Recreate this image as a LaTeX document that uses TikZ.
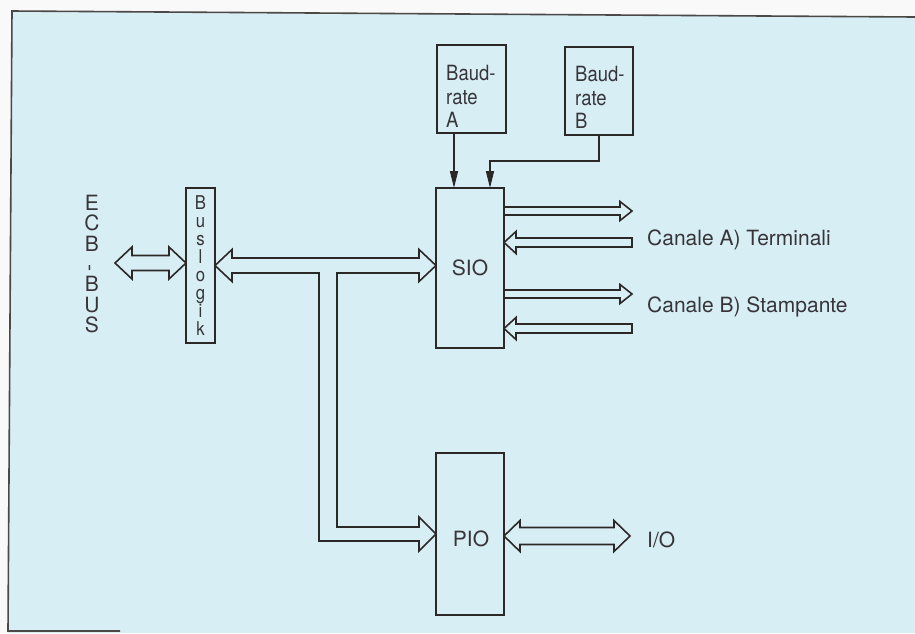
\documentclass[tikz,border=0pt]{standalone}
\usepackage{fontspec}
\usepackage{graphicx}
\setmainfont{TeX Gyre Heros}
\newfontfamily\cndf{TeX Gyre Heros}[FakeStretch=0.88]
\usetikzlibrary{calc,arrows.meta}
\definecolor{bgblue}{RGB}{215,238,245}
\definecolor{ink}{RGB}{45,40,40}
\definecolor{txt}{RGB}{55,53,57}
\newcommand\nolsk{\lineskiplimit=-50pt\relax\lineskip=0pt\relax}
% double wide arrow: #1 left tip, #2 right tip, #3 head length, #4 half head, #5 half shaft
\newcommand\dblarr[5]{\draw[widearrow] let \p1=(#1), \p2=(#2) in (\x1,\y1) -- (\x1+#3,\y1+#4) -- (\x1+#3,\y1+#5) -- (\x2-#3,\y1+#5) -- (\x2-#3,\y1+#4) -- (\x2,\y1) -- (\x2-#3,\y1-#4) -- (\x2-#3,\y1-#5) -- (\x1+#3,\y1-#5) -- (\x1+#3,\y1-#4) -- cycle;}
% right-pointing wide arrow, open tail at #1, tip at #2
\newcommand\outarr[2]{\draw[widearrow] let \p1=(#1), \p2=(#2) in (\x1,\y2+4pt) -- (\x2-12pt,\y2+4pt) -- (\x2-12pt,\y2+9.5pt) -- (\x2,\y2) -- (\x2-12pt,\y2-9.5pt) -- (\x2-12pt,\y2-4pt) -- (\x1,\y2-4pt);}
% left-pointing wide arrow, tip at #1, closed tail at #2
\newcommand\inarr[2]{\draw[widearrow] let \p1=(#1), \p2=(#2) in (\x1,\y2) -- (\x1+12pt,\y2+11pt) -- (\x1+12pt,\y2+4.5pt) -- (\x2,\y2+4.5pt) -- (\x2,\y2-4.5pt) -- (\x1+12pt,\y2-4.5pt) -- (\x1+12pt,\y2-11pt) -- cycle;}
\tikzset{
  box/.style={draw=ink, line width=2.8pt, inner sep=0pt, outer sep=0pt},
  widearrow/.style={draw=ink, line width=1.6pt, line join=miter},
  thinarr/.style={draw=ink, line width=1.5pt, -{Triangle[length=17pt,width=8pt]}},
  lbl/.style={text=txt, inner sep=0pt, font={\fontsize{21}{21}\selectfont}},
  clbl/.style={text=txt, inner sep=0pt, align=left, font={\cndf\fontsize{21}{23.5}\selectfont}},
}
\begin{document}
\begin{tikzpicture}[x=1pt,y=-1pt]
\useasboundingbox (0,0) rectangle (915,633);
% paper and frame
\fill[white!95!gray] (0,0) rectangle (915,633);
\fill[bgblue] (12,11) -- (915,17) -- (915,633) -- (8,633) -- cycle;
\draw[ink!85, line width=1.6pt] (915,17) -- (12,11) -- (8,631) -- (120,631);

% boxes
\node[box, minimum width=29, minimum height=155,
      align=center, text=txt, font={\cndf\fontsize{19}{18}\selectfont\nolsk}]
      (bl) at (200.5,265.5) {B\\u\\s\\l\\o\\g\\i\\k};
\node[box, minimum width=68, minimum height=160] (sio) at (470,268) {};
\node[box, minimum width=68, minimum height=162] (pio) at (470,534) {};
\node[box, minimum width=69, minimum height=88] (ba) at (471.5,89) {};
\node[box, minimum width=68, minimum height=88] (bb) at (599,91) {};

% texts
\node[lbl, align=center, font={\fontsize{21}{20.3}\selectfont\nolsk}] (ecb) at (92,264)
  {E\\C\\B\\\rotatebox{90}{-}\\B\\U\\S};
\node[lbl, anchor=base] (siot) at (470,275) {SIO};
\node[lbl, anchor=base] (piot) at (471,546) {PIO};
\node[clbl, anchor=north west] (bat) at (446,65) {Baud-\\rate\\A};
\node[clbl, anchor=north west] (bbt) at (575,66) {Baud-\\rate\\B};
\node[lbl, anchor=base west] (cana) at (647,245) {Canale A) Terminali};
\node[lbl, anchor=base west] (canb) at (647,312) {Canale B) Stampante};
\node[lbl, anchor=base west] (io) at (647,547) {I/O};

% free ends
\coordinate (ecbtip) at (115,263);
\coordinate (a1) at (632,211);
\coordinate (a2) at (632,242.5);
\coordinate (b1) at (632,294);
\coordinate (b2) at (632,328.5);
\coordinate (iotip) at (630,536);

% ECB-BUS <-> Buslogik
\dblarr{ecbtip}{bl.west |- ecbtip}{17pt}{16pt}{7.5pt}

% internal bus Buslogik <-> SIO with branch to PIO
\draw[widearrow] let \p1=(bl.east), \p2=(sio.west), \p3=(pio.west) in
  (\x1,\y1) -- (\x1+17pt,\y1+16pt) -- (\x1+17pt,\y1+7.5pt) -- (\x2-17pt,\y1+7.5pt)
  -- (\x2-17pt,\y1+16pt) -- (\x2,\y1) -- (\x2-17pt,\y1-16pt) -- (\x2-17pt,\y1-7.5pt)
  -- (337pt,\y1-7.5pt) -- (337pt,\y3+7pt) -- (\x3-17pt,\y3+7pt) -- (\x3-17pt,\y3+17pt)
  -- (\x3,\y3) -- (\x3-17pt,\y3-17pt) -- (\x3-17pt,\y3-7pt) -- (319pt,\y3-7pt)
  -- (319pt,\y1-7.5pt) -- (\x1+17pt,\y1-7.5pt) -- (\x1+17pt,\y1-16pt) -- cycle;

% PIO <-> I/O
\dblarr{pio.east |- iotip}{iotip}{16pt}{15.5pt}{8.5pt}

% SIO channels
\outarr{sio.east |- a1}{a1}
\inarr{sio.east |- a2}{a2}
\outarr{sio.east |- b1}{b1}
\inarr{sio.east |- b2}{b2}

% baud rate clocks
\coordinate (atop) at ([xshift=17pt]ba.south west);
\draw[thinarr] (atop) -- (atop |- sio.north);
\coordinate (bbend) at (490,161);
\draw[thinarr] (bb.south) |- (bbend) -- (bbend |- sio.north);
\end{tikzpicture}
\end{document}
